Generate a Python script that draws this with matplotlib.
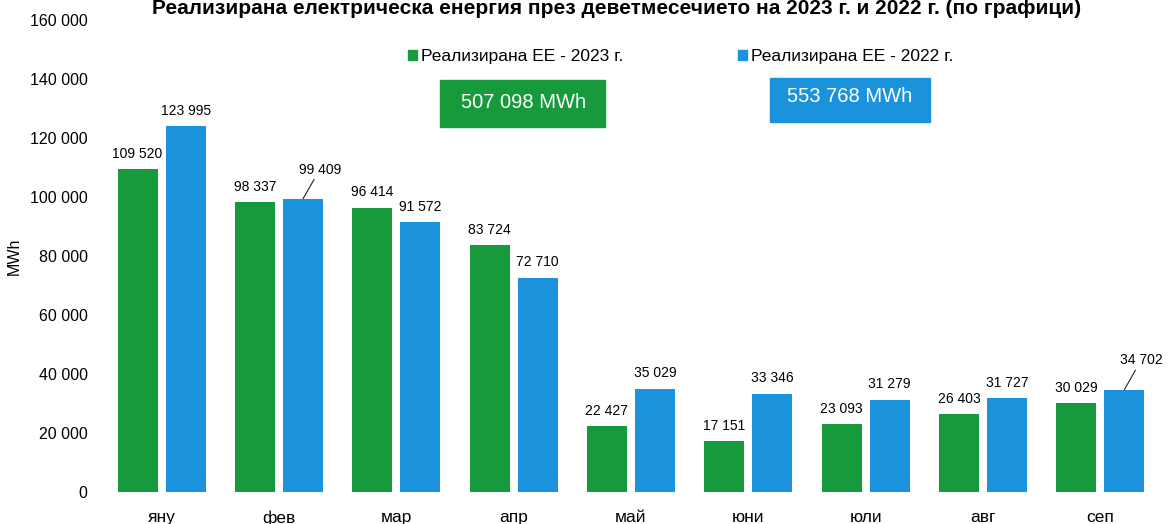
import numpy as np
import matplotlib
matplotlib.use("Agg")
import matplotlib.pyplot as plt
from matplotlib.patches import Patch, Rectangle
from matplotlib.ticker import FuncFormatter

plt.rcParams["font.family"] = ["Liberation Sans", "DejaVu Sans"]

months = ["яну", "фев", "мар", "апр", "май", "юни", "юли", "авг", "сеп"]
ee_2023 = [109520, 98337, 96414, 83724, 22427, 17151, 23093, 26403, 30029]
ee_2022 = [123995, 99409, 91572, 72710, 35029, 33346, 31279, 31727, 34702]
total_2023 = "507 098 MWh"
total_2022 = "553 768 MWh"
yticks = [0, 20000, 40000, 60000, 80000, 100000, 120000, 140000, 160000]

green = "#179a3b"
blue = "#1b93dc"

W, H = 1169, 524
fig = plt.figure(figsize=(W / 100, H / 100), dpi=100)
ax = fig.add_axes([103 / W, 1 - 492 / H, (1159 - 103) / W, (492 - 20) / H])

x = np.arange(len(months))
bw = 0.34
gap = 0.035
b1 = ax.bar(x - bw / 2 - gap, ee_2023, bw, color=green)
b2 = ax.bar(x + bw / 2 + gap, ee_2022, bw, color=blue)

def fmt(v):
    return f"{v:,}".replace(",", " ")

# value labels, two of them pushed aside with a short leader line
for bars, vals in [(b1, ee_2023), (b2, ee_2022)]:
    for r, v in zip(bars, vals):
        cx = r.get_x() + r.get_width() / 2
        if v in (99409, 34702):
            ax.annotate(fmt(v), xy=(cx, v), xytext=(12, 16), textcoords="offset points",
                        ha="center", va="bottom", fontsize=10,
                        arrowprops=dict(arrowstyle="-", color="#222222", lw=0.8,
                                        shrinkA=0, shrinkB=0))
        else:
            ax.annotate(fmt(v), xy=(cx, v), xytext=(0, 6), textcoords="offset points",
                        ha="center", va="bottom", fontsize=10)

ax.set_xlim(-0.5, len(months) - 0.5)
ax.set_ylim(0, 160000)
ax.set_yticks(yticks)
ax.yaxis.set_major_formatter(FuncFormatter(lambda v, p: fmt(int(v))))
ax.set_xticks(x)
ax.set_xticklabels(months, fontsize=12.5)
ax.tick_params(axis="y", labelsize=11.5, length=0, pad=11)
ax.tick_params(axis="x", length=0, pad=13)
for s in ax.spines.values():
    s.set_visible(False)
ax.set_ylabel("MWh", fontsize=11.5, labelpad=6)

fig.text(617 / W, 1 - 8 / H,
         "Реализирана електрическа енергия през деветмесечието на 2023 г. и 2022 г. (по графици)",
         ha="center", va="center", fontsize=15, fontweight="bold")

handles = [Patch(color=green), Patch(color=blue)]
fig.legend(handles, ["Реализирана ЕЕ - 2023 г.", "Реализирана ЕЕ - 2022 г."],
           loc="center left", bbox_to_anchor=(408 / W, 1 - 57 / H), ncol=2,
           frameon=False, fontsize=12.5, handlelength=0.5, handleheight=0.5,
           handletextpad=0.25, columnspacing=6.6, borderaxespad=0, borderpad=0)

# totals boxes
fig.patches.append(Rectangle((440 / W, 1 - 127 / H), 165 / W, 47 / H,
                             transform=fig.transFigure, color=green))
fig.text(524 / W, 1 - 103 / H, total_2023, ha="center", va="center",
         fontsize=14.5, color="white")
fig.patches.append(Rectangle((770 / W, 1 - 122 / H), 160 / W, 44 / H,
                             transform=fig.transFigure, color=blue))
fig.text(850 / W, 1 - 97 / H, total_2022, ha="center", va="center",
         fontsize=14.5, color="white")

fig.savefig("out.png", dpi=100)
